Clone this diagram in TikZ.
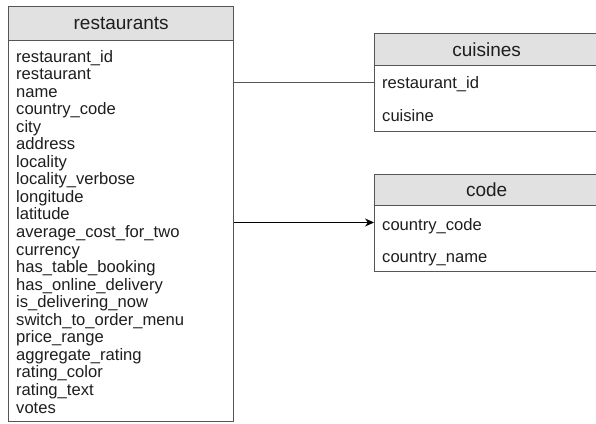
\documentclass[tikz,border=0pt]{standalone}
\usepackage{fontspec}
\setmainfont{Liberation Sans}
\usepackage{tikz}
\usetikzlibrary{arrows.meta}
\definecolor{boxcolor}{HTML}{555555}
\definecolor{headcolor}{HTML}{E1E1E1}
\definecolor{fieldcolor}{HTML}{1E1E1E}
\tikzset{table head/.style={draw=boxcolor,fill=headcolor,line width=1.3pt,anchor=north west,inner sep=0pt,font=\fontsize{19}{21}\selectfont,text=fieldcolor},table body/.style={draw=boxcolor,fill=white,line width=1.3pt,anchor=north west,inner sep=0pt},field/.style={anchor=base west,inner sep=0pt,font=\fontsize{16.6}{18}\selectfont,text=fieldcolor},plain link/.style={draw=boxcolor,line width=1.1pt},ref link/.style={-{Stealth[length=9pt,width=8pt]},draw=black,line width=1pt}}

\begin{document}
\begin{tikzpicture}[x=1pt,y=-1pt]
 \useasboundingbox (0,0) rectangle (596,423);

 % restaurants table: header plus 21 fields
 \node[table body,minimum width=225pt,minimum height=381pt] (rest) at (8,40) {};
 \node[table head,minimum width=225pt,minimum height=34pt] (rest-head) at (8,6) {restaurants};
 \foreach \name [count=\i] in {restaurant\_id,restaurant,name,country\_code,city,address,locality,locality\_verbose,longitude,latitude,average\_cost\_for\_two,currency,has\_table\_booking,has\_online\_delivery,is\_delivering\_now,switch\_to\_order\_menu,price\_range,aggregate\_rating,rating\_color,rating\_text,votes}
  \node[field] (rest-\i) at (16,{62+17.55*(\i-1)}) {\name};

 % cuisines table
 \node[table body,minimum width=224pt,minimum height=66pt] (cuis) at (374,65) {};
 \node[table head,minimum width=224pt,minimum height=32pt] (cuis-head) at (374,33) {cuisines};
 \node[field] (cuis-id) at (382,88.5) {restaurant\_id};
 \node[field] (cuis-name) at (382,121) {cuisine};

 % code table
 \node[table body,minimum width=224pt,minimum height=66pt] (code) at (374,205) {};
 \node[table head,minimum width=224pt,minimum height=31pt] (code-head) at (374,174) {code};
 \node[field] (code-cc) at (382,230) {country\_code};
 \node[field] (code-name) at (382,262.5) {country\_name};

 \coordinate (cuis-in) at (cuis.west |- 0,82.5);
 \coordinate (code-in) at (code.west |- 0,222.5);
 \draw[plain link] (rest.east |- cuis-in) -- (cuis-in);
 \draw[ref link] (rest.east |- code-in) -- (code-in);
\end{tikzpicture}
\end{document}
